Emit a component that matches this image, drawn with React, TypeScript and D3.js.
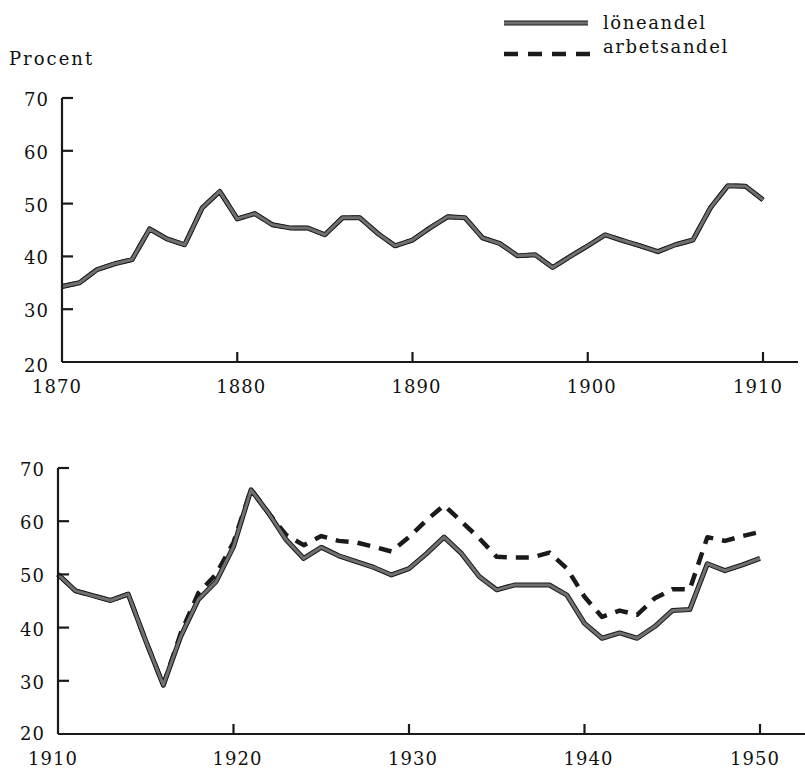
import React from "react";
import * as d3 from "d3";

const years1 = d3.range(1870, 1911);
const lone1 = [34.3, 35, 37.5, 38.6, 39.4, 45.2, 43.3, 42.2, 49.2, 52.3, 47.1, 48.1, 46, 45.4, 45.4, 44.1, 47.3, 47.3, 44.4, 42, 43.1, 45.4, 47.5, 47.3, 43.5, 42.4, 40.1, 40.3, 37.9, 40, 42, 44.1, 43, 42, 40.9, 42.2, 43.1, 49.2, 53.4, 53.3, 50.7];
const arbets1 = [34.3, 35, 37.5, 38.6, 39.4, 45.2, 43.3, 42.2, 49.2, 52.3, 47.1, 48.1, 46, 45.4, 45.4, 44.1, 47.3, 47.3, 44.4, 42, 43.1, 45.4, 47.5, 47.3, 43.5, 42.4, 40.1, 40.3, 37.9, 40, 42, 44.1, 43, 42, 40.9, 42.2, 43.1, 49.2, 53.4, 53.3, 50.7];

const years2 = d3.range(1910, 1951);
const lone2 = [50, 46.9, 46, 45.1, 46.3, 37.5, 29.2, 38.4, 45.3, 48.6, 55.2, 65.9, 61.5, 56.5, 53, 55.1, 53.5, 52.4, 51.3, 49.9, 51.1, 53.9, 57, 53.9, 49.6, 47.1, 48, 48, 48, 46.1, 40.8, 38, 39, 38, 40.2, 43.2, 43.4, 52, 50.7, 51.8, 53];
const arbets2 = [50, 46.9, 46, 45.1, 46.3, 37.5, 29.2, 39, 46.5, 50, 56, 66, 61.5, 57.4, 55.5, 57.2, 56.3, 56, 55.2, 54.3, 57, 60.2, 63, 59.9, 56.8, 53.3, 53.2, 53.2, 54.1, 51.1, 45.8, 42, 43.2, 42.4, 45.5, 47.2, 47.2, 57, 56.3, 57.2, 58];

const yTicks = [20, 30, 40, 50, 60, 70];
const xTicks1 = [1870, 1880, 1890, 1900, 1910];
const xTicks2 = [1910, 1920, 1930, 1940, 1950];
const seriesNames = ["löneandel", "arbetsandel"];

const FONT = "'DejaVu Serif', serif";
const GRAY = "#707070";
const DARK = "#1a1a1a";
const TXT = "#111";

type PanelProps = {
  years: number[];
  lone: number[];
  arbets: number[];
  xTicks: number[];
  x0: number; x1: number; axisEnd: number;
  yTop: number; yBottom: number;
  zeroLabelDy: number;
};

function Panel({ years, lone, arbets, xTicks, x0, x1, axisEnd, yTop, yBottom, zeroLabelDy }: PanelProps) {
  const x = d3.scaleLinear().domain([xTicks[0], xTicks[xTicks.length - 1]]).range([x0, x1]);
  const y = d3.scaleLinear().domain([20, 70]).range([yBottom, yTop]);
  const line = d3.line<number>().x((_, i) => x(years[i])).y((v) => y(v));
  const dLone = line(lone) || "";
  const dArb = line(arbets) || "";
  const n = xTicks.length;
  return (
    <g>
      <path d={dArb} fill="none" stroke={DARK} strokeWidth={4.5} strokeDasharray="13 9" strokeLinejoin="round" />
      <path d={dLone} fill="none" stroke={DARK} strokeWidth={5} strokeLinejoin="round" />
      <path d={dLone} fill="none" stroke={GRAY} strokeWidth={3} strokeLinejoin="round" />
      <line x1={x0} x2={x0} y1={y(70)} y2={y(20)} stroke={DARK} strokeWidth={2.2} />
      <line x1={x0} x2={axisEnd} y1={y(20)} y2={y(20)} stroke={DARK} strokeWidth={2.2} />
      {yTicks.map((t) => (
        <g key={"y" + t}>
          {t > 20 && <line x1={x0} x2={x0 + 11} y1={y(t)} y2={y(t)} stroke={DARK} strokeWidth={2.2} />}
          <text x={x0 - 13} y={y(t) + (t === 20 ? zeroLabelDy : 8)} textAnchor="end" fontFamily={FONT} fontSize={18} letterSpacing={1} fill={TXT}>{t}</text>
        </g>
      ))}
      {xTicks.map((t, i) => (
        <g key={"x" + t}>
          {i > 0 && <line x1={x(t)} x2={x(t)} y1={y(20)} y2={y(20) - 10} stroke={DARK} strokeWidth={2.2} />}
          <text x={x(t) + (i === 0 ? -5 : i === n - 1 ? -5 : 4)} y={y(20) + 31} textAnchor="middle" fontFamily={FONT} fontSize={18} letterSpacing={1} fill={TXT}>{t}</text>
        </g>
      ))}
    </g>
  );
}

export default function App() {
  return (
    <svg width={805} height={768} style={{ position: "absolute", left: 0, top: 0, background: "#fff" }}>
      <rect width={805} height={768} fill="#fff" />
      <line x1={504} x2={588} y1={23} y2={23} stroke={DARK} strokeWidth={5} />
      <line x1={504} x2={588} y1={23} y2={23} stroke={GRAY} strokeWidth={3} />
      <text x={603} y={29} fontFamily={FONT} fontSize={18} letterSpacing={1.6} fill={TXT}>{seriesNames[0]}</text>
      <line x1={504} x2={594} y1={54} y2={54} stroke={DARK} strokeWidth={4.5} strokeDasharray="14 10" />
      <text x={603} y={53} fontFamily={FONT} fontSize={18} letterSpacing={1.6} fill={TXT}>{seriesNames[1]}</text>
      <text x={9} y={65} fontFamily={FONT} fontSize={18} letterSpacing={2} fill={TXT}>Procent</text>
      <Panel years={years1} lone={lone1} arbets={arbets1} xTicks={xTicks1} x0={62} x1={763} axisEnd={798} yTop={98} yBottom={362} zeroLabelDy={10} />
      <Panel years={years2} lone={lone2} arbets={arbets2} xTicks={xTicks2} x0={58} x1={760} axisEnd={805} yTop={468} yBottom={734} zeroLabelDy={6} />
    </svg>
  );
}
